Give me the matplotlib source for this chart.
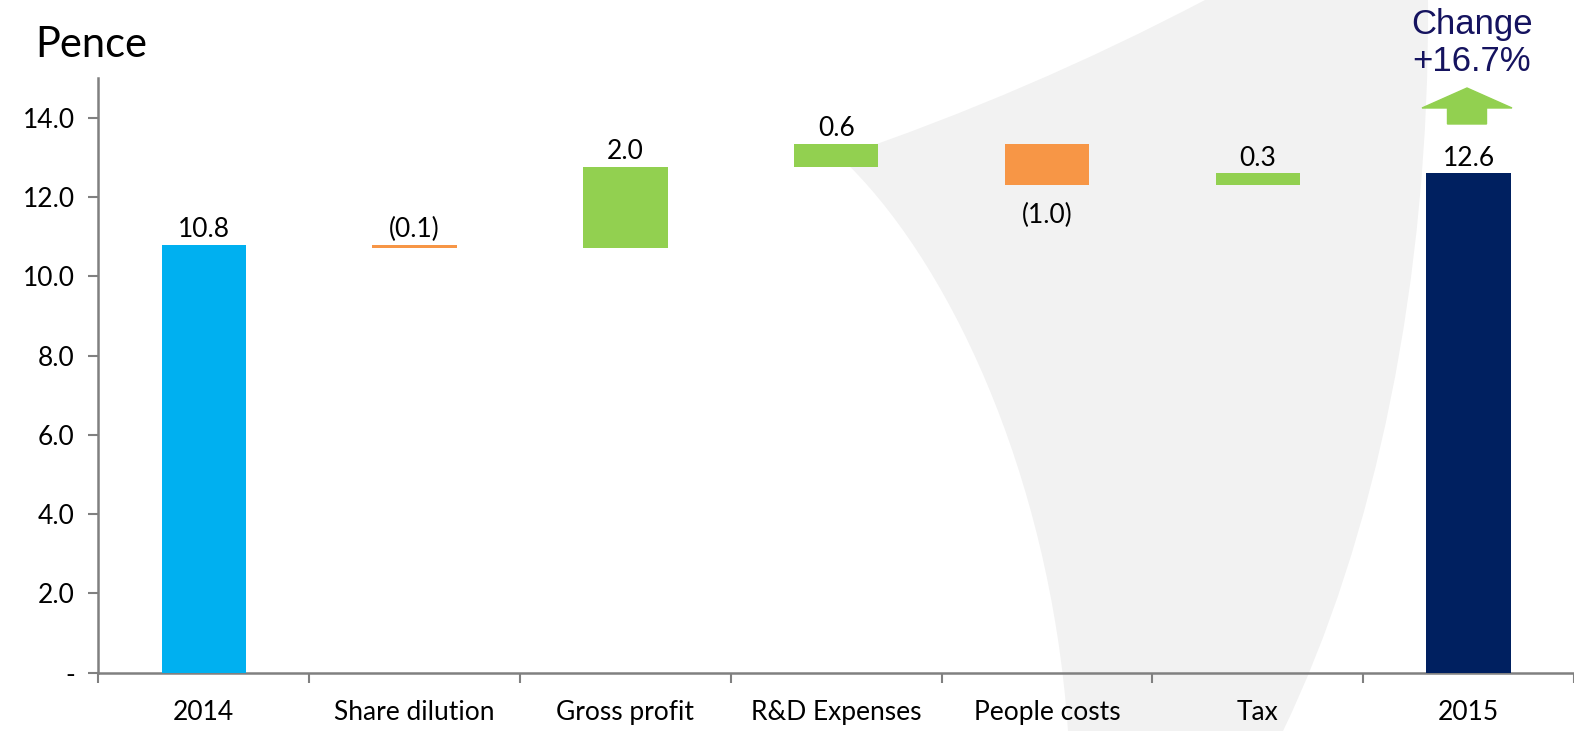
import numpy as np
import matplotlib
matplotlib.use("Agg")
import matplotlib.pyplot as plt
from matplotlib.path import Path
from matplotlib.patches import PathPatch, FancyArrow

# ---- data (pence) ----
categories = ["2014", "Share dilution", "Gross profit", "R&D Expenses",
              "People costs", "Tax", "2015"]
start_value = 10.8
changes = [-0.08, 2.04, 0.58, -1.04, 0.30]
end_value = 12.6
yticks = [0, 2, 4, 6, 8, 10, 12, 14]
ytick_labels = ["-", "2.0", "4.0", "6.0", "8.0", "10.0", "12.0", "14.0"]
change_text = "Change\n+16.7%"

c_start = "#00B0F0"
c_end = "#002060"
c_up = "#92D050"
c_down = "#F79646"

plt.rcParams["font.family"] = ["Lato", "DejaVu Sans"]
fs = 19

fig = plt.figure(figsize=(15.74, 7.31), dpi=100)

# light grey decorative swoosh behind the chart (pixel coords -> figure coords)
W, H = 1574.0, 731.0
def fp(x, y):
    return (x / W, 1 - y / H)

verts = [fp(1205, 0), fp(1030, 92), fp(840, 157),
         fp(945, 255), fp(1050, 470), fp(1068, 731),
         fp(1283, 731),
         fp(1375, 540), fp(1430, 280), fp(1428, 0),
         fp(1205, 0)]
codes = [Path.MOVETO, Path.CURVE3, Path.CURVE3,
         Path.CURVE4, Path.CURVE4, Path.CURVE4,
         Path.LINETO,
         Path.CURVE4, Path.CURVE4, Path.CURVE4,
         Path.CLOSEPOLY]
swoosh = PathPatch(Path(verts, codes), facecolor="#F2F2F2", edgecolor="none",
                   transform=fig.transFigure, zorder=-5)
fig.patches.append(swoosh)

ax = fig.add_axes([0.0625, 0.080, 0.9375, 0.813])
ax.set_facecolor("none")

x = np.arange(len(categories))
level = np.concatenate([[start_value], start_value + np.cumsum(changes)])
bottoms = [0]
heights = [start_value]
colors = [c_start]
for i, d in enumerate(changes):
    bottoms.append(min(level[i], level[i + 1]))
    heights.append(abs(d))
    colors.append(c_up if d > 0 else c_down)
bottoms.append(0)
heights.append(end_value)
colors.append(c_end)

ax.bar(x, heights, bottom=bottoms, width=0.4, color=colors, zorder=3)

def fmt(v):
    return "(%.1f)" % abs(v) if v < 0 else "%.1f" % v

vals = [start_value] + changes + [end_value]
for i, v in enumerate(vals):
    top = bottoms[i] + heights[i]
    if i == 4:
        ax.annotate(fmt(v), (x[i], bottoms[i]), xytext=(0, -13),
                    textcoords="offset points", ha="center", va="top",
                    fontsize=fs, color="black")
    else:
        ax.annotate(fmt(v), (x[i], top), xytext=(0, 2),
                    textcoords="offset points", ha="center", va="bottom",
                    fontsize=fs, color="black")

ax.set_xlim(-0.5, len(categories) - 0.5)
ax.set_ylim(0, 15)
ax.set_yticks(yticks)
ax.set_yticklabels(ytick_labels, fontsize=fs)
ax.set_xticks(x)
ax.set_xticklabels(categories, fontsize=fs)
ax.set_xticks(np.arange(-0.5, len(categories)), minor=True)
ax.tick_params(axis="x", which="major", length=0, pad=20)
ax.tick_params(axis="x", which="minor", length=7, width=1.5, color="#808080",
               direction="out")
ax.tick_params(axis="y", length=7, width=1.5, color="#808080", pad=10)

for s in ["top", "right"]:
    ax.spines[s].set_visible(False)
for s in ["left", "bottom"]:
    ax.spines[s].set_color("#808080")
    ax.spines[s].set_linewidth(1.8)

fig.text(35 / W, 1 - 45 / H, "Pence", fontsize=30, ha="left", va="center")

fig.text(1472 / W, 1 - 43 / H, change_text, fontsize=25, ha="center",
         va="center", color="#15135F", family=["Liberation Sans"],
         linespacing=1.12)

# green up arrow above the 2015 bar
arrow = FancyArrow(1467 / W, 1 - 124 / H, 0, 36 / H, width=39 / W,
                   head_width=90 / W, head_length=20 / H,
                   length_includes_head=True, color=c_up,
                   transform=fig.transFigure)
fig.patches.append(arrow)

fig.savefig("out.png", dpi=100)
